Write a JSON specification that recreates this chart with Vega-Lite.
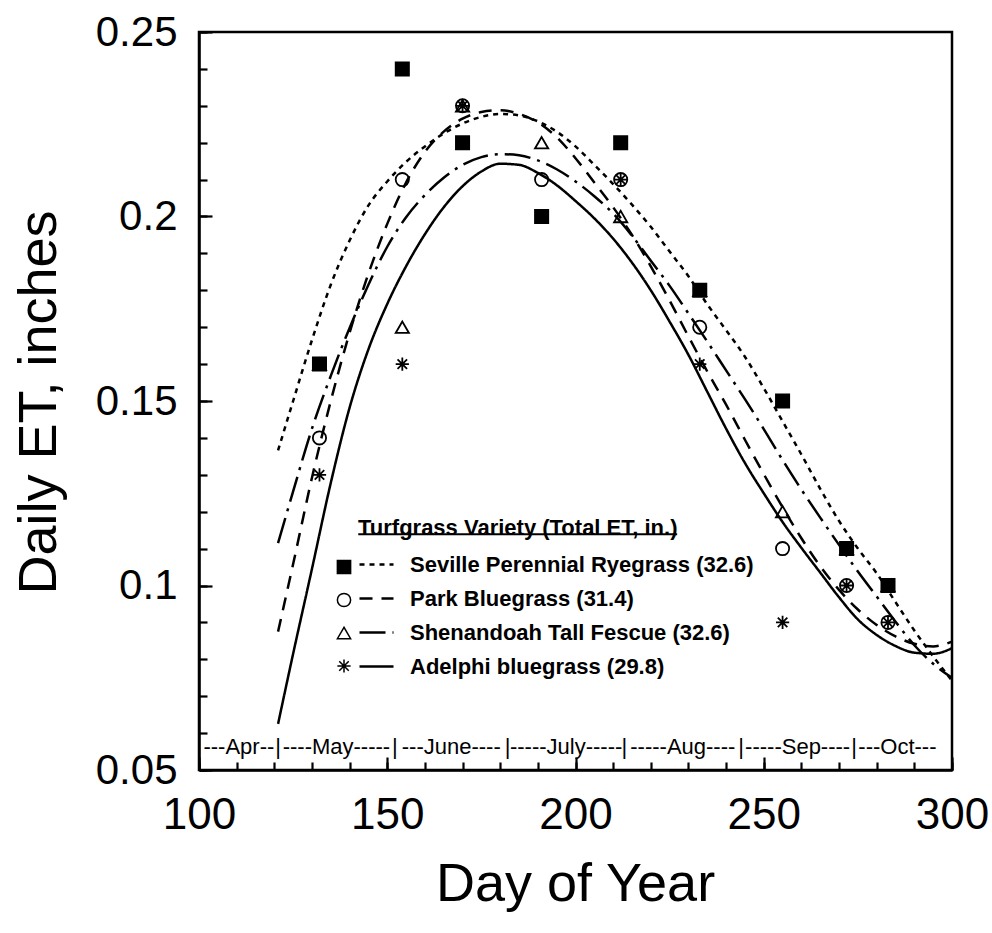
{
  "$schema": "https://vega.github.io/schema/vega-lite/v6.json",
  "width": 753,
  "height": 738,
  "autosize": {"type": "none"},
  "padding": {"left": 199, "top": 32, "right": 40, "bottom": 163},
  "background": "white",
  "config": {
    "font": "Liberation Sans",
    "view": {"stroke": "black", "strokeWidth": 2.5},
    "axis": {"grid": false, "domainColor": "black", "domainWidth": 2.5, "tickColor": "black", "tickWidth": 2.2, "labelColor": "black", "titleColor": "black", "labelFont": "Liberation Sans", "titleFont": "Liberation Sans", "titleFontWeight": "normal", "labelOverlap": false},
    "legend": {"padding": 0, "labelFont": "Liberation Sans", "titleFont": "Liberation Sans", "labelFontSize": 22, "labelFontWeight": "bold", "rowPadding": 4, "labelColor": "black", "titleColor": "black", "labelLimit": 500, "titleLimit": 500}
  },
  "resolve": {"axis": {"x": "independent", "y": "independent"}},
  "datasets": {
    "curves": [
      {"curve": "Seville Perennial Ryegrass (32.6)", "day": 121, "et": 0.1366},
      {"curve": "Seville Perennial Ryegrass (32.6)", "day": 125, "et": 0.150},
      {"curve": "Seville Perennial Ryegrass (32.6)", "day": 130, "et": 0.1665},
      {"curve": "Seville Perennial Ryegrass (32.6)", "day": 135, "et": 0.1815},
      {"curve": "Seville Perennial Ryegrass (32.6)", "day": 140, "et": 0.1935},
      {"curve": "Seville Perennial Ryegrass (32.6)", "day": 145, "et": 0.203},
      {"curve": "Seville Perennial Ryegrass (32.6)", "day": 150, "et": 0.2095},
      {"curve": "Seville Perennial Ryegrass (32.6)", "day": 155, "et": 0.2148},
      {"curve": "Seville Perennial Ryegrass (32.6)", "day": 160, "et": 0.219},
      {"curve": "Seville Perennial Ryegrass (32.6)", "day": 165, "et": 0.2225},
      {"curve": "Seville Perennial Ryegrass (32.6)", "day": 170, "et": 0.2252},
      {"curve": "Seville Perennial Ryegrass (32.6)", "day": 175, "et": 0.227},
      {"curve": "Seville Perennial Ryegrass (32.6)", "day": 180, "et": 0.2278},
      {"curve": "Seville Perennial Ryegrass (32.6)", "day": 185, "et": 0.2274},
      {"curve": "Seville Perennial Ryegrass (32.6)", "day": 190, "et": 0.2258},
      {"curve": "Seville Perennial Ryegrass (32.6)", "day": 195, "et": 0.223},
      {"curve": "Seville Perennial Ryegrass (32.6)", "day": 200, "et": 0.219},
      {"curve": "Seville Perennial Ryegrass (32.6)", "day": 205, "et": 0.214},
      {"curve": "Seville Perennial Ryegrass (32.6)", "day": 210, "et": 0.2088},
      {"curve": "Seville Perennial Ryegrass (32.6)", "day": 215, "et": 0.2032},
      {"curve": "Seville Perennial Ryegrass (32.6)", "day": 220, "et": 0.1972},
      {"curve": "Seville Perennial Ryegrass (32.6)", "day": 225, "et": 0.1905},
      {"curve": "Seville Perennial Ryegrass (32.6)", "day": 230, "et": 0.1838},
      {"curve": "Seville Perennial Ryegrass (32.6)", "day": 235, "et": 0.1762},
      {"curve": "Seville Perennial Ryegrass (32.6)", "day": 240, "et": 0.1692},
      {"curve": "Seville Perennial Ryegrass (32.6)", "day": 245, "et": 0.162},
      {"curve": "Seville Perennial Ryegrass (32.6)", "day": 250, "et": 0.1535},
      {"curve": "Seville Perennial Ryegrass (32.6)", "day": 255, "et": 0.1445},
      {"curve": "Seville Perennial Ryegrass (32.6)", "day": 260, "et": 0.1355},
      {"curve": "Seville Perennial Ryegrass (32.6)", "day": 265, "et": 0.1262},
      {"curve": "Seville Perennial Ryegrass (32.6)", "day": 270, "et": 0.1175},
      {"curve": "Seville Perennial Ryegrass (32.6)", "day": 275, "et": 0.110},
      {"curve": "Seville Perennial Ryegrass (32.6)", "day": 280, "et": 0.1033},
      {"curve": "Seville Perennial Ryegrass (32.6)", "day": 285, "et": 0.0955},
      {"curve": "Seville Perennial Ryegrass (32.6)", "day": 290, "et": 0.0878},
      {"curve": "Seville Perennial Ryegrass (32.6)", "day": 295, "et": 0.0808},
      {"curve": "Seville Perennial Ryegrass (32.6)", "day": 300, "et": 0.0742},
      {"curve": "Park Bluegrass (31.4)", "day": 121, "et": 0.0875},
      {"curve": "Park Bluegrass (31.4)", "day": 125, "et": 0.1058},
      {"curve": "Park Bluegrass (31.4)", "day": 130, "et": 0.1292},
      {"curve": "Park Bluegrass (31.4)", "day": 135, "et": 0.150},
      {"curve": "Park Bluegrass (31.4)", "day": 140, "et": 0.1685},
      {"curve": "Park Bluegrass (31.4)", "day": 145, "et": 0.1845},
      {"curve": "Park Bluegrass (31.4)", "day": 150, "et": 0.198},
      {"curve": "Park Bluegrass (31.4)", "day": 155, "et": 0.2092},
      {"curve": "Park Bluegrass (31.4)", "day": 160, "et": 0.2175},
      {"curve": "Park Bluegrass (31.4)", "day": 165, "et": 0.223},
      {"curve": "Park Bluegrass (31.4)", "day": 170, "et": 0.2265},
      {"curve": "Park Bluegrass (31.4)", "day": 175, "et": 0.2283},
      {"curve": "Park Bluegrass (31.4)", "day": 180, "et": 0.2288},
      {"curve": "Park Bluegrass (31.4)", "day": 185, "et": 0.2278},
      {"curve": "Park Bluegrass (31.4)", "day": 190, "et": 0.2255},
      {"curve": "Park Bluegrass (31.4)", "day": 195, "et": 0.2215},
      {"curve": "Park Bluegrass (31.4)", "day": 200, "et": 0.2158},
      {"curve": "Park Bluegrass (31.4)", "day": 205, "et": 0.2092},
      {"curve": "Park Bluegrass (31.4)", "day": 210, "et": 0.2025},
      {"curve": "Park Bluegrass (31.4)", "day": 215, "et": 0.195},
      {"curve": "Park Bluegrass (31.4)", "day": 220, "et": 0.1865},
      {"curve": "Park Bluegrass (31.4)", "day": 225, "et": 0.1772},
      {"curve": "Park Bluegrass (31.4)", "day": 230, "et": 0.1675},
      {"curve": "Park Bluegrass (31.4)", "day": 235, "et": 0.158},
      {"curve": "Park Bluegrass (31.4)", "day": 240, "et": 0.149},
      {"curve": "Park Bluegrass (31.4)", "day": 245, "et": 0.1395},
      {"curve": "Park Bluegrass (31.4)", "day": 250, "et": 0.1302},
      {"curve": "Park Bluegrass (31.4)", "day": 255, "et": 0.1212},
      {"curve": "Park Bluegrass (31.4)", "day": 260, "et": 0.1128},
      {"curve": "Park Bluegrass (31.4)", "day": 265, "et": 0.1052},
      {"curve": "Park Bluegrass (31.4)", "day": 270, "et": 0.0988},
      {"curve": "Park Bluegrass (31.4)", "day": 275, "et": 0.0935},
      {"curve": "Park Bluegrass (31.4)", "day": 280, "et": 0.0893},
      {"curve": "Park Bluegrass (31.4)", "day": 285, "et": 0.0862},
      {"curve": "Park Bluegrass (31.4)", "day": 290, "et": 0.0842},
      {"curve": "Park Bluegrass (31.4)", "day": 295, "et": 0.0835},
      {"curve": "Park Bluegrass (31.4)", "day": 300, "et": 0.0848},
      {"curve": "Shenandoah Tall Fescue (32.6)", "day": 121, "et": 0.1115},
      {"curve": "Shenandoah Tall Fescue (32.6)", "day": 125, "et": 0.1255},
      {"curve": "Shenandoah Tall Fescue (32.6)", "day": 130, "et": 0.1425},
      {"curve": "Shenandoah Tall Fescue (32.6)", "day": 135, "et": 0.1568},
      {"curve": "Shenandoah Tall Fescue (32.6)", "day": 140, "et": 0.1698},
      {"curve": "Shenandoah Tall Fescue (32.6)", "day": 145, "et": 0.1815},
      {"curve": "Shenandoah Tall Fescue (32.6)", "day": 150, "et": 0.1918},
      {"curve": "Shenandoah Tall Fescue (32.6)", "day": 155, "et": 0.1998},
      {"curve": "Shenandoah Tall Fescue (32.6)", "day": 160, "et": 0.2058},
      {"curve": "Shenandoah Tall Fescue (32.6)", "day": 165, "et": 0.2105},
      {"curve": "Shenandoah Tall Fescue (32.6)", "day": 170, "et": 0.214},
      {"curve": "Shenandoah Tall Fescue (32.6)", "day": 175, "et": 0.2161},
      {"curve": "Shenandoah Tall Fescue (32.6)", "day": 180, "et": 0.2169},
      {"curve": "Shenandoah Tall Fescue (32.6)", "day": 185, "et": 0.2166},
      {"curve": "Shenandoah Tall Fescue (32.6)", "day": 190, "et": 0.2152},
      {"curve": "Shenandoah Tall Fescue (32.6)", "day": 195, "et": 0.2128},
      {"curve": "Shenandoah Tall Fescue (32.6)", "day": 200, "et": 0.2095},
      {"curve": "Shenandoah Tall Fescue (32.6)", "day": 205, "et": 0.2055},
      {"curve": "Shenandoah Tall Fescue (32.6)", "day": 210, "et": 0.2008},
      {"curve": "Shenandoah Tall Fescue (32.6)", "day": 215, "et": 0.1948},
      {"curve": "Shenandoah Tall Fescue (32.6)", "day": 220, "et": 0.188},
      {"curve": "Shenandoah Tall Fescue (32.6)", "day": 225, "et": 0.1812},
      {"curve": "Shenandoah Tall Fescue (32.6)", "day": 230, "et": 0.1737},
      {"curve": "Shenandoah Tall Fescue (32.6)", "day": 235, "et": 0.1661},
      {"curve": "Shenandoah Tall Fescue (32.6)", "day": 240, "et": 0.1583},
      {"curve": "Shenandoah Tall Fescue (32.6)", "day": 245, "et": 0.1505},
      {"curve": "Shenandoah Tall Fescue (32.6)", "day": 250, "et": 0.1424},
      {"curve": "Shenandoah Tall Fescue (32.6)", "day": 255, "et": 0.134},
      {"curve": "Shenandoah Tall Fescue (32.6)", "day": 260, "et": 0.126},
      {"curve": "Shenandoah Tall Fescue (32.6)", "day": 265, "et": 0.1184},
      {"curve": "Shenandoah Tall Fescue (32.6)", "day": 270, "et": 0.111},
      {"curve": "Shenandoah Tall Fescue (32.6)", "day": 275, "et": 0.1038},
      {"curve": "Shenandoah Tall Fescue (32.6)", "day": 280, "et": 0.097},
      {"curve": "Shenandoah Tall Fescue (32.6)", "day": 285, "et": 0.0902},
      {"curve": "Shenandoah Tall Fescue (32.6)", "day": 290, "et": 0.0838},
      {"curve": "Shenandoah Tall Fescue (32.6)", "day": 295, "et": 0.0788},
      {"curve": "Shenandoah Tall Fescue (32.6)", "day": 300, "et": 0.075},
      {"curve": "Adelphi bluegrass (29.8)", "day": 121, "et": 0.0625},
      {"curve": "Adelphi bluegrass (29.8)", "day": 125, "et": 0.0815},
      {"curve": "Adelphi bluegrass (29.8)", "day": 130, "et": 0.1045},
      {"curve": "Adelphi bluegrass (29.8)", "day": 135, "et": 0.1278},
      {"curve": "Adelphi bluegrass (29.8)", "day": 140, "et": 0.1482},
      {"curve": "Adelphi bluegrass (29.8)", "day": 145, "et": 0.164},
      {"curve": "Adelphi bluegrass (29.8)", "day": 150, "et": 0.1763},
      {"curve": "Adelphi bluegrass (29.8)", "day": 155, "et": 0.1865},
      {"curve": "Adelphi bluegrass (29.8)", "day": 160, "et": 0.1952},
      {"curve": "Adelphi bluegrass (29.8)", "day": 165, "et": 0.2025},
      {"curve": "Adelphi bluegrass (29.8)", "day": 170, "et": 0.2082},
      {"curve": "Adelphi bluegrass (29.8)", "day": 175, "et": 0.2122},
      {"curve": "Adelphi bluegrass (29.8)", "day": 180, "et": 0.2143},
      {"curve": "Adelphi bluegrass (29.8)", "day": 185, "et": 0.214},
      {"curve": "Adelphi bluegrass (29.8)", "day": 190, "et": 0.2118},
      {"curve": "Adelphi bluegrass (29.8)", "day": 195, "et": 0.2085},
      {"curve": "Adelphi bluegrass (29.8)", "day": 200, "et": 0.2042},
      {"curve": "Adelphi bluegrass (29.8)", "day": 205, "et": 0.1995},
      {"curve": "Adelphi bluegrass (29.8)", "day": 210, "et": 0.194},
      {"curve": "Adelphi bluegrass (29.8)", "day": 215, "et": 0.1875},
      {"curve": "Adelphi bluegrass (29.8)", "day": 220, "et": 0.18},
      {"curve": "Adelphi bluegrass (29.8)", "day": 225, "et": 0.1715},
      {"curve": "Adelphi bluegrass (29.8)", "day": 230, "et": 0.1625},
      {"curve": "Adelphi bluegrass (29.8)", "day": 235, "et": 0.1525},
      {"curve": "Adelphi bluegrass (29.8)", "day": 240, "et": 0.1425},
      {"curve": "Adelphi bluegrass (29.8)", "day": 245, "et": 0.1332},
      {"curve": "Adelphi bluegrass (29.8)", "day": 250, "et": 0.125},
      {"curve": "Adelphi bluegrass (29.8)", "day": 255, "et": 0.1172},
      {"curve": "Adelphi bluegrass (29.8)", "day": 260, "et": 0.1102},
      {"curve": "Adelphi bluegrass (29.8)", "day": 265, "et": 0.1035},
      {"curve": "Adelphi bluegrass (29.8)", "day": 270, "et": 0.0968},
      {"curve": "Adelphi bluegrass (29.8)", "day": 275, "et": 0.0908},
      {"curve": "Adelphi bluegrass (29.8)", "day": 280, "et": 0.0866},
      {"curve": "Adelphi bluegrass (29.8)", "day": 285, "et": 0.0836},
      {"curve": "Adelphi bluegrass (29.8)", "day": 290, "et": 0.0818},
      {"curve": "Adelphi bluegrass (29.8)", "day": 295, "et": 0.0815},
      {"curve": "Adelphi bluegrass (29.8)", "day": 300, "et": 0.083}
    ],
    "points": [
      {"variety": "Seville", "day": 132, "et": 0.16},
      {"variety": "Seville", "day": 154, "et": 0.24},
      {"variety": "Seville", "day": 170, "et": 0.22},
      {"variety": "Seville", "day": 191, "et": 0.20},
      {"variety": "Seville", "day": 212, "et": 0.22},
      {"variety": "Seville", "day": 233, "et": 0.18},
      {"variety": "Seville", "day": 255, "et": 0.15},
      {"variety": "Seville", "day": 272, "et": 0.11},
      {"variety": "Seville", "day": 283, "et": 0.10},
      {"variety": "Park", "day": 132, "et": 0.14},
      {"variety": "Park", "day": 154, "et": 0.21},
      {"variety": "Park", "day": 170, "et": 0.23},
      {"variety": "Park", "day": 191, "et": 0.21},
      {"variety": "Park", "day": 212, "et": 0.21},
      {"variety": "Park", "day": 233, "et": 0.17},
      {"variety": "Park", "day": 255, "et": 0.11},
      {"variety": "Park", "day": 272, "et": 0.10},
      {"variety": "Park", "day": 283, "et": 0.09},
      {"variety": "Shenandoah", "day": 132, "et": 0.16},
      {"variety": "Shenandoah", "day": 154, "et": 0.17},
      {"variety": "Shenandoah", "day": 170, "et": 0.23},
      {"variety": "Shenandoah", "day": 191, "et": 0.22},
      {"variety": "Shenandoah", "day": 212, "et": 0.20},
      {"variety": "Shenandoah", "day": 233, "et": 0.18},
      {"variety": "Shenandoah", "day": 255, "et": 0.12},
      {"variety": "Shenandoah", "day": 272, "et": 0.11},
      {"variety": "Shenandoah", "day": 283, "et": 0.10},
      {"variety": "Adelphi", "day": 132, "et": 0.13},
      {"variety": "Adelphi", "day": 154, "et": 0.16},
      {"variety": "Adelphi", "day": 170, "et": 0.23},
      {"variety": "Adelphi", "day": 191, "et": 0.20},
      {"variety": "Adelphi", "day": 212, "et": 0.21},
      {"variety": "Adelphi", "day": 233, "et": 0.16},
      {"variety": "Adelphi", "day": 255, "et": 0.09},
      {"variety": "Adelphi", "day": 272, "et": 0.10},
      {"variety": "Adelphi", "day": 283, "et": 0.09}
    ],
    "months": [
      {"label": "---Apr--", "day": 110.6},
      {"label": "|", "day": 121},
      {"label": "----May-----", "day": 136.5},
      {"label": "|", "day": 152},
      {"label": "---June----", "day": 167},
      {"label": "|", "day": 182},
      {"label": "-----July-----", "day": 197.5},
      {"label": "|", "day": 213},
      {"label": "-----Aug----", "day": 228.5},
      {"label": "|", "day": 244},
      {"label": "-----Sep----", "day": 259},
      {"label": "|", "day": 274},
      {"label": "---Oct---", "day": 285.5}
    ]
  },
  "layer": [
    {
      "data": {"name": "curves"},
      "mark": {"type": "line", "interpolate": "monotone", "strokeWidth": 2.5, "color": "black"},
      "encoding": {
        "x": {
          "field": "day", "type": "quantitative",
          "scale": {"domain": [100, 300], "nice": false, "zero": false},
          "axis": {
            "orient": "bottom",
            "values": [100, 150, 200, 250, 300],
            "tickSize": -13,
            "labelPadding": 36, "labelFontSize": 44, "labelFlush": false, "labelOverlap": false, "labelBound": false, "labelBaseline": "top",
            "title": "Day of Year", "titleFontSize": 54, "titleX": 376, "titleY": 130, "titleAlign": "center", "titleBaseline": "alphabetic"
          }
        },
        "y": {
          "field": "et", "type": "quantitative",
          "scale": {"domain": [0.05, 0.25], "nice": false, "zero": false},
          "axis": {
            "orient": "left",
            "values": [0.05, 0.1, 0.15, 0.2, 0.25],
            "labelExpr": "format(datum.value, '~g')",
            "tickSize": -13,
            "labelPadding": 35, "labelFontSize": 42, "labelFlush": false, "labelOverlap": false, "labelBound": false, "labelBaseline": "middle",
            "title": "Daily ET, inches", "titleFontSize": 54, "titleX": -144, "titleY": 370, "titleAngle": 270, "titleAlign": "center", "titleBaseline": "alphabetic"
          }
        },
        "strokeDash": {
          "field": "curve", "type": "nominal",
          "scale": {
            "domain": ["Seville Perennial Ryegrass (32.6)", "Park Bluegrass (31.4)", "Shenandoah Tall Fescue (32.6)", "Adelphi bluegrass (29.8)"],
            "range": [[5, 5], [13, 9], [26, 7, 3, 7], [1, 0]]
          },
          "legend": {
            "orient": "none", "legendX": 159, "legendY": 486,
            "title": "Turfgrass Variety (Total ET, in.)", "titleFontSize": 22, "titleFontWeight": "bold", "titlePadding": 6,
            "symbolType": "stroke", "symbolSize": 1156, "symbolStrokeWidth": 2.4, "symbolStrokeColor": "black",
            "labelOffset": 15
          }
        }
      }
    },
    {
      "data": {"name": "points"},
      "mark": {"type": "point", "stroke": "black", "strokeWidth": 1.8, "size": 175, "opacity": 1},
      "encoding": {
        "x": {
          "field": "day", "type": "quantitative",
          "axis": {"orient": "bottom", "values": [100, 110, 120, 130, 140, 150, 160, 170, 180, 190, 200, 210, 220, 230, 240, 250, 260, 270, 280, 290, 300], "tickSize": -8, "labels": false, "domain": false, "title": null}
        },
        "y": {
          "field": "et", "type": "quantitative",
          "axis": {"orient": "left", "values": [0.05, 0.06, 0.07, 0.08, 0.09, 0.1, 0.11, 0.12, 0.13, 0.14, 0.15, 0.16, 0.17, 0.18, 0.19, 0.2, 0.21, 0.22, 0.23, 0.24, 0.25], "tickSize": -8, "labels": false, "domain": false, "title": null}
        },
        "shape": {
          "field": "variety", "type": "nominal",
          "scale": {"domain": ["Seville", "Park", "Shenandoah", "Adelphi"], "range": ["square", "circle", "triangle-up", "M-1,0L1,0M0,-1L0,1M-0.72,-0.72L0.72,0.72M-0.72,0.72L0.72,-0.72"]},
          "legend": {"orient": "none", "legendX": 134, "legendY": 524, "title": null, "labelExpr": "''", "rowPadding": 11, "symbolSize": 175, "encode": {"symbols": {"update": {"stroke": {"value": "black"}, "strokeWidth": {"value": 1.8}}}}}
        },
        "fill": {
          "field": "variety", "type": "nominal",
          "scale": {"domain": ["Seville", "Park", "Shenandoah", "Adelphi"], "range": ["black", "transparent", "transparent", "transparent"]},
          "legend": {"orient": "none", "legendX": 134, "legendY": 524, "title": null, "labelExpr": "''", "rowPadding": 11, "symbolSize": 175, "encode": {"symbols": {"update": {"stroke": {"value": "black"}, "strokeWidth": {"value": 1.8}}}}}
        }
      }
    },
    {
      "data": {"name": "months"},
      "mark": {"type": "text", "fontSize": 22, "font": "Liberation Sans", "color": "black", "baseline": "middle", "align": "center"},
      "encoding": {
        "x": {"field": "day", "type": "quantitative", "axis": null},
        "y": {"datum": 0.0562, "type": "quantitative", "axis": null},
        "text": {"field": "label"}
      }
    },
    {
      "data": {"values": [{}]},
      "mark": {"type": "rule", "strokeWidth": 2, "color": "black"},
      "encoding": {
        "x": {"datum": 142.3, "type": "quantitative", "axis": null},
        "x2": {"datum": 227.0},
        "y": {"datum": 0.1139, "type": "quantitative", "axis": null}
      }
    }
  ]
}
